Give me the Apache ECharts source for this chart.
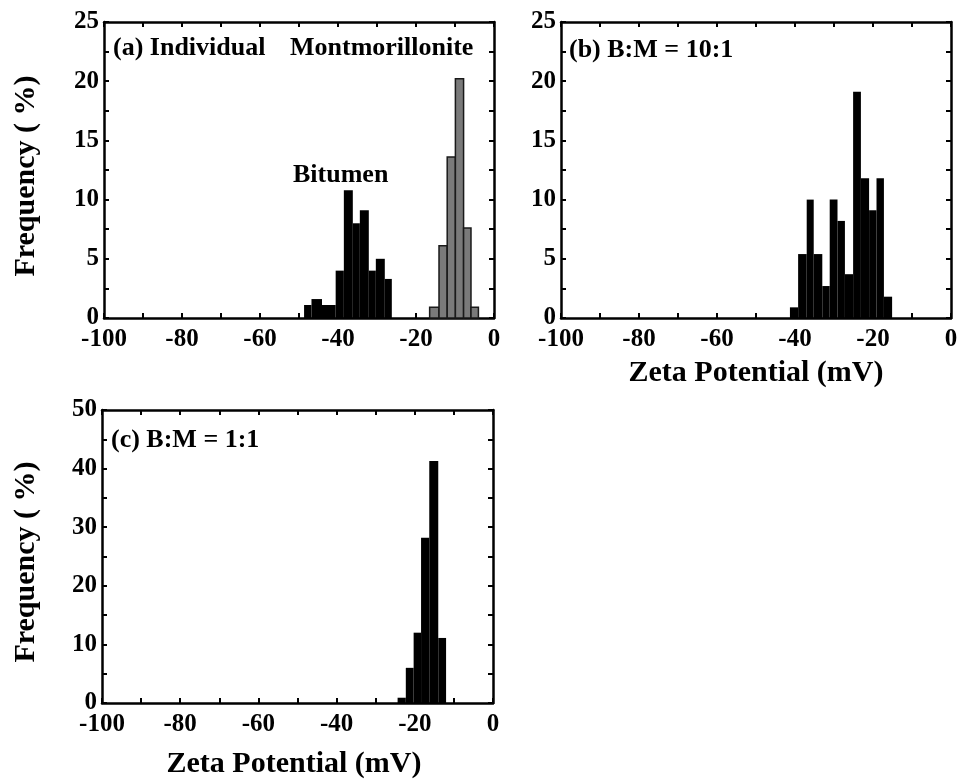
<!DOCTYPE html>
<html>
<head>
<meta charset="utf-8">
<script src="https://cdn.jsdelivr.net/npm/echarts@6/dist/echarts.min.js"></script>
<style>
html,body{margin:0;padding:0;background:#fff;}
#chart{width:962px;height:784px;}
</style>
</head>
<body>
<div id="chart"></div>
<script>
// ---- data (bin edges in mV, frequency in %) ----
const bitumenEdges = [-48.7, -46.8, -44.1, -40.6, -38.5, -36.2, -34.4, -32.1, -30.3, -28.0, -26.2];
const bitumenFreq  = [1.1, 1.6, 1.1, 4.0, 10.8, 8.0, 9.1, 4.0, 5.0, 3.3];
const montEdges    = [-16.5, -14.1, -12.0, -9.9, -7.8, -5.9, -4.0];
const montFreq     = [0.9, 6.1, 13.6, 20.2, 7.6, 0.9];
const bm10Edges    = [-41.3, -39.2, -37.0, -35.2, -33.0, -31.1, -29.1, -27.2, -25.1, -23.1, -21.0, -19.1, -17.2, -15.1];
const bm10Freq     = [0.9, 5.4, 10.0, 5.4, 2.7, 10.0, 8.2, 3.7, 19.1, 11.8, 9.1, 11.8, 1.8];
const bm1Edges     = [-24.4, -22.3, -20.3, -18.4, -16.3, -14.0, -12.0];
const bm1Freq      = [0.9, 6.0, 12.0, 28.2, 41.3, 11.1];
const xTicksMin = -100, xTicksMax = 0, xTickStep = 20;
const yAB = {min: 0, max: 25, step: 5};
const yC  = {min: 0, max: 50, step: 10};
const panelTitles = ['(a) Individual', '(b) B:M = 10:1', '(c) B:M = 1:1'];
const seriesNames = ['Bitumen', 'Montmorillonite'];
const yName = 'Frequency ( %)';
const xName = 'Zeta Potential (mV)';

function toBins(edges, freq) {
  return freq.map((f, i) => [edges[i], edges[i + 1], f]);
}

const FONT = 'Liberation Serif';
const chart = echarts.init(document.getElementById('chart'));

const grids = [
  {left: 104, top: 22, width: 390, height: 296},
  {left: 561, top: 22, width: 390, height: 296},
  {left: 102, top: 410, width: 391, height: 293}
];

const lineStyle = {color: '#000', width: 2.5};
const tickStyle = {show: true, inside: true, length: 5, lineStyle: {color: '#000', width: 2}};
const minorStyle = {show: true, splitNumber: 2, length: 5, lineStyle: {color: '#000', width: 2}};

const xAxes = [], yAxes = [];
grids.forEach((g, i) => {
  xAxes.push({
    type: 'value', gridIndex: i, position: 'bottom', min: xTicksMin, max: xTicksMax, interval: xTickStep,
    axisLine: {show: true, onZero: false, lineStyle}, axisTick: tickStyle, minorTick: minorStyle,
    splitLine: {show: false},
    axisLabel: {show: true, margin: 9, color: '#000', fontFamily: FONT, fontWeight: 'bold', fontSize: 25}
  });
  xAxes.push({
    type: 'value', gridIndex: i, position: 'top', min: xTicksMin, max: xTicksMax, interval: xTickStep,
    axisLine: {show: true, onZero: false, lineStyle}, axisTick: tickStyle, minorTick: minorStyle,
    splitLine: {show: false}, axisLabel: {show: false}
  });
  const ys = i === 2 ? yC : yAB;
  yAxes.push({
    type: 'value', gridIndex: i, position: 'left', min: ys.min, max: ys.max, interval: ys.step,
    axisLine: {show: true, onZero: false, lineStyle}, axisTick: tickStyle, minorTick: minorStyle,
    splitLine: {show: false},
    axisLabel: {show: true, margin: 5, color: '#000', fontFamily: FONT, fontWeight: 'bold', fontSize: 25}
  });
  yAxes.push({
    type: 'value', gridIndex: i, position: 'right', min: ys.min, max: ys.max, interval: ys.step,
    axisLine: {show: true, onZero: false, lineStyle}, axisTick: tickStyle, minorTick: minorStyle,
    splitLine: {show: false}, axisLabel: {show: false}
  });
});

function histSeries(name, bins, gi, fill, stroke) {
  return {
    type: 'custom', name, xAxisIndex: gi * 2, yAxisIndex: gi * 2,
    data: bins,
    renderItem: function (params, api) {
      const p0 = api.coord([api.value(0), api.value(2)]);
      const p1 = api.coord([api.value(1), 0]);
      return {
        type: 'rect',
        shape: {x: p0[0], y: p0[1], width: p1[0] - p0[0], height: p1[1] - p0[1]},
        style: {fill: fill, stroke: stroke, lineWidth: stroke ? 1.5 : 0}
      };
    }
  };
}

const series = [
  histSeries(seriesNames[0], toBins(bitumenEdges, bitumenFreq), 0, '#000', null),
  histSeries(seriesNames[1], toBins(montEdges, montFreq), 0, '#7a7a7a', '#1a1a1a'),
  histSeries('B:M 10:1', toBins(bm10Edges, bm10Freq), 1, '#000', null),
  histSeries('B:M 1:1', toBins(bm1Edges, bm1Freq), 2, '#000', null)
];

const txt = (x, y, text, size) => ({
  type: 'text', x, y,
  style: {text, fill: '#000', font: 'bold ' + size + 'px "' + FONT + '"', textAlign: 'left', textVerticalAlign: 'middle'}
});
const ctxt = (x, y, text, size, rot) => ({
  type: 'text', x, y, rotation: rot || 0,
  style: {text, fill: '#000', font: 'bold ' + size + 'px "' + FONT + '"', textAlign: 'center', textVerticalAlign: 'middle'}
});

const graphic = [
  txt(113, 48, panelTitles[0], 26),
  txt(569, 50, panelTitles[1], 26),
  txt(111, 440, panelTitles[2], 26),
  txt(290, 48, seriesNames[1], 26),
  txt(293, 175, seriesNames[0], 26),
  ctxt(26, 176, yName, 30, Math.PI / 2),
  ctxt(26, 562, yName, 30, Math.PI / 2),
  ctxt(756, 373, xName, 30),
  ctxt(294, 764, xName, 30)
];

chart.setOption({
  animation: false,
  backgroundColor: '#fff',
  grid: grids,
  xAxis: xAxes,
  yAxis: yAxes,
  series,
  graphic
});
</script>
</body>
</html>
